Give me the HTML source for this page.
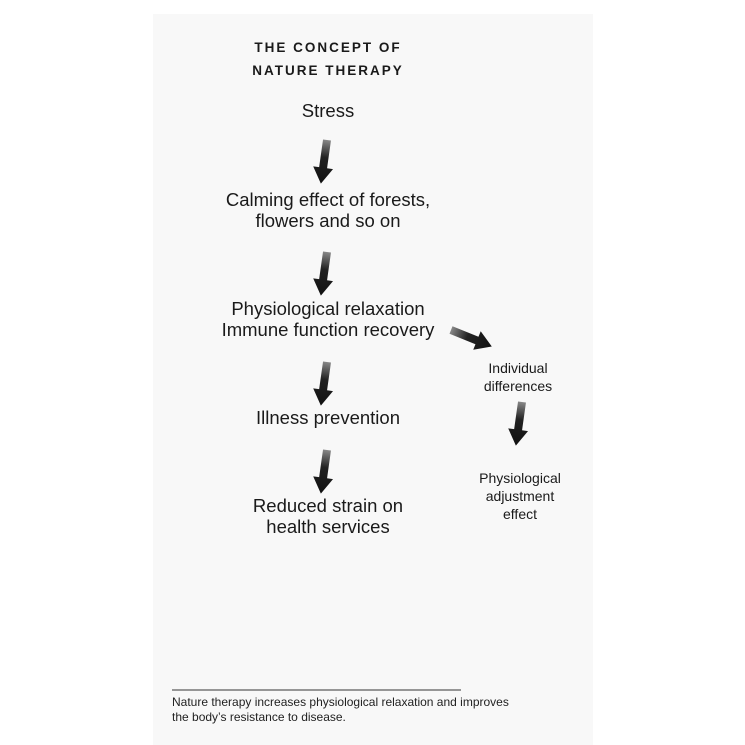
<!DOCTYPE html>
<html><head><style>
body{margin:0;width:745px;height:745px;background:#fff;position:relative;overflow:hidden;font-family:"Liberation Sans",sans-serif;color:#1a1a1a}
.panel{position:absolute;left:153px;top:14px;width:440px;height:731px;background:#f8f8f8}
.t{position:absolute;white-space:nowrap;text-align:center;transform:translateX(-50%)}
.m{font-size:18.5px;line-height:21px}
.s{font-size:14px;line-height:18px}
</style></head><body>
<div class="panel"></div>
<div class="t" style="left:328px;top:36px;font-size:13.5px;font-weight:bold;letter-spacing:2px;line-height:23px">THE CONCEPT OF<br>NATURE THERAPY</div>
<div class="t m" style="left:328px;top:100px">Stress</div>
<div class="t m" style="left:328px;top:189px">Calming effect of forests,<br>flowers and so on</div>
<div class="t m" style="left:328px;top:298px">Physiological relaxation<br>Immune function recovery</div>
<div class="t m" style="left:328px;top:407px">Illness prevention</div>
<div class="t m" style="left:328px;top:495px">Reduced strain on<br>health services</div>
<div class="t s" style="left:518px;top:359px">Individual<br>differences</div>
<div class="t s" style="left:520px;top:469px">Physiological<br>adjustment<br>effect</div>
<svg width="745" height="745" style="position:absolute;left:0;top:0">
<defs><linearGradient id="g" x1="0" y1="0" x2="0" y2="1"><stop offset="0" stop-color="#888"/><stop offset="0.4" stop-color="#222"/><stop offset="1" stop-color="#111"/></linearGradient></defs>
<g fill="url(#g)">
<g transform="translate(327,140) rotate(8)"><polygon points="-4,0 4,0 4,28 10,28 0,44 -10,28 -4,28"/></g>
<g transform="translate(327,252) rotate(8)"><polygon points="-4,0 4,0 4,28 10,28 0,44 -10,28 -4,28"/></g>
<g transform="translate(327,362) rotate(8)"><polygon points="-4,0 4,0 4,28 10,28 0,44 -10,28 -4,28"/></g>
<g transform="translate(327,450) rotate(8)"><polygon points="-4,0 4,0 4,28 10,28 0,44 -10,28 -4,28"/></g>
<g transform="translate(522,402) rotate(8)"><polygon points="-4,0 4,0 4,28 10,28 0,44 -10,28 -4,28"/></g>
<g transform="translate(451,330) rotate(-68)"><polygon points="-4,0 4,0 4,28 10,28 0,44 -10,28 -4,28"/></g>
</g>
<line x1="172" y1="690" x2="461" y2="690" stroke="#333" stroke-width="1"/>
</svg>
<div style="position:absolute;left:172px;top:695px;font-size:12px;line-height:15px;color:#222">Nature therapy increases physiological relaxation and improves<br>the body’s resistance to disease.</div>
</body></html>
